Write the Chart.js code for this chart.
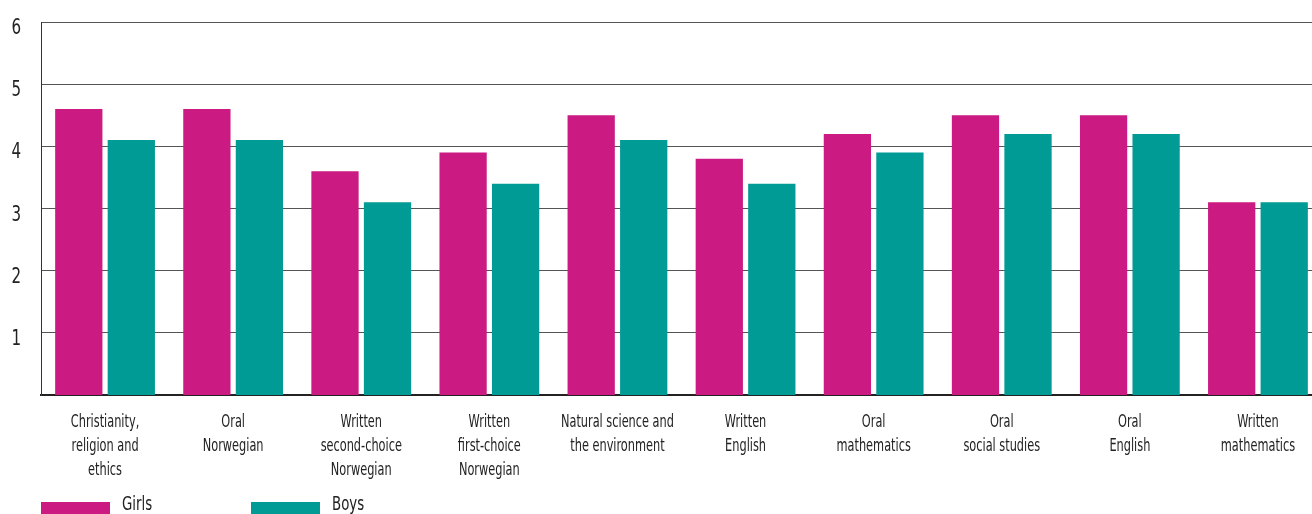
<!DOCTYPE html>
<html>
<head>
<meta charset="utf-8">
<script src="https://cdn.jsdelivr.net/npm/chart.js@4/dist/chart.umd.min.js"></script>
<style>
  html, body { margin: 0; padding: 0; background: #fff; overflow: hidden; }
  #wrap { width: 1312px; height: 514px; position: relative; overflow: hidden; }
</style>
</head>
<body>
<div id="wrap"><canvas id="c" width="1322" height="514"></canvas></div>
<script>
// Subjects (multi-line labels)
const subjects = [
  ["Christianity,", "religion and", "ethics"],
  ["Oral", "Norwegian"],
  ["Written", "second-choice", "Norwegian"],
  ["Written", "first-choice", "Norwegian"],
  ["Natural science and", "the environment"],
  ["Written", "English"],
  ["Oral", "mathematics"],
  ["Oral", "social studies"],
  ["Oral", "English"],
  ["Written", "mathematics"]
];
// Average grade per subject
const girls = [4.6, 4.6, 3.6, 3.9, 4.5, 3.8, 4.2, 4.5, 4.5, 3.1];
const boys  = [4.1, 4.1, 3.1, 3.4, 4.1, 3.4, 3.9, 4.2, 4.2, 3.1];
const seriesNames = ["Girls", "Boys"];
const yTicks = [1, 2, 3, 4, 5, 6];

const PINK = "#CB1A82";
const TEAL = "#009B95";
const FONT = "'DejaVu Sans Condensed', 'DejaVu Sans', sans-serif";
const TEXT = "#222";

// Draws text squeezed horizontally to get a narrow, condensed look
function narrowText(ctx, str, x, y, size, squeeze, align) {
  ctx.save();
  ctx.translate(x, y);
  ctx.scale(squeeze, 1);
  ctx.font = size + "px " + FONT;
  ctx.fillStyle = TEXT;
  ctx.textAlign = align;
  ctx.textBaseline = "alphabetic";
  ctx.fillText(str, 0, 0);
  ctx.restore();
}

// Axis labels and the legend, drawn in a condensed style
const condensedText = {
  id: "condensedText",
  afterDraw(chart) {
    const ctx = chart.ctx;
    const xs = chart.scales.x, ys = chart.scales.y;
    // category labels
    chart.data.labels.forEach((lines, i) => {
      const cx = xs.getPixelForTick(i);
      lines.forEach((line, k) => {
        narrowText(ctx, line, cx, 427 + 24 * k, 18, 0.7, "center");
      });
    });
    // value labels
    yTicks.forEach(v => {
      const py = ys.getPixelForValue(v);
      narrowText(ctx, String(v), 21, py + 12, 21, 0.8, "right");
    });
    // legend
    const slots = [41, 251];
    chart.data.datasets.forEach((ds, i) => {
      const x = slots[i];
      ctx.fillStyle = ds.backgroundColor;
      ctx.fillRect(x, 502, 69, 14);
      narrowText(ctx, ds.label, x + 81, 510, 20, 0.74, "left");
    });
  }
};

new Chart(document.getElementById("c"), {
  type: "bar",
  data: {
    labels: subjects,
    datasets: [
      { label: seriesNames[0], data: girls, backgroundColor: PINK },
      { label: seriesNames[1], data: boys, backgroundColor: TEAL }
    ]
  },
  options: {
    responsive: false,
    animation: false,
    devicePixelRatio: 1,
    layout: { padding: { top: 22, left: 0, right: 0, bottom: 0 } },
    datasets: { bar: { categoryPercentage: 0.82, barPercentage: 0.9 } },
    plugins: {
      legend: { display: false },
      tooltip: { enabled: false }
    },
    scales: {
      x: {
        grid: { display: false, drawTicks: false },
        border: { color: "#222", width: 2 },
        ticks: { display: false },
        afterFit(scale) { scale.height = 119; }
      },
      y: {
        min: 0,
        max: 6,
        afterBuildTicks(scale) { scale.ticks = yTicks.map(v => ({ value: v })); },
        grid: { color: "#555", lineWidth: 1, drawTicks: false },
        border: { color: "#333", width: 1 },
        ticks: { display: false },
        afterFit(scale) { scale.width = 41; }
      }
    }
  },
  plugins: [condensedText]
});
</script>
</body>
</html>
